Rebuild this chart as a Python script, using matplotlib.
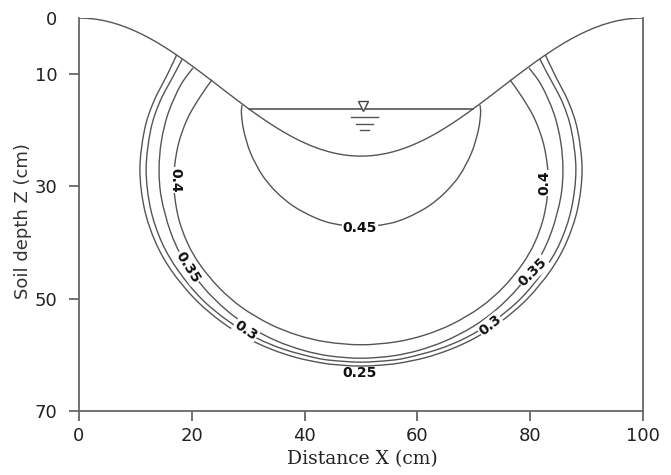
import matplotlib
matplotlib.use("Agg")
import matplotlib.pyplot as plt
import numpy as np
from matplotlib.path import Path
from matplotlib.patches import PathPatch

# Furrow surface profile, left half (distance X cm, depth Z cm); the furrow is symmetric about X = 50
surface_x = [0, 2.5, 5, 7.5, 10, 12.5, 15, 17.5, 20, 22.5, 25, 27.5, 30, 32.5, 35, 37.5, 40, 42.5, 45, 47.5, 50]
surface_z = [0, 0.15, 0.60, 1.34, 2.35, 3.60, 5.07, 6.72, 8.50, 10.38, 12.30, 14.22, 16.10, 17.88, 19.53,
             21.0, 22.25, 23.26, 24.0, 24.45, 24.6]

# Water level in the furrow
water_z = 16.2
water_x = [30.1, 69.9]

# Soil water content contours, left half from the surface down to the bottom point at X = 50
c025_x = [17.3, 15.7, 13.2, 11.6, 10.8, 11.6, 13.6, 16.4, 20.5, 25.1, 29.8, 34.1, 38.6, 43.4, 46.8, 50]
c025_z = [6.6, 10, 15, 20, 27, 34, 40, 45, 50, 54, 57, 59, 60.5, 61.5, 61.85, 62.0]

c030_x = [18.3, 16.9, 14.3, 12.7, 11.9, 12.7, 14.7, 17.6, 21.7, 26.5, 31.5, 36.3, 41.8, 45.0, 50]
c030_z = [7.3, 10, 15, 20, 27, 34, 40, 45, 50, 54, 57, 59, 60.5, 61.0, 61.3]

c035_x = [20.2, 18.0, 15.8, 14.6, 14.2, 14.6, 16.2, 18.5, 22.1, 26.1, 30.2, 35.0, 39.8, 44.5, 50]
c035_z = [8.9, 12, 17, 22, 27, 32, 38, 43, 48, 52, 55, 57.5, 59.2, 60.2, 60.6]

c040_x = [23.6, 21.5, 19.2, 17.5, 16.8, 17.5, 19.2, 21.5, 24.8, 28.8, 33.8, 38.8, 43.9, 50]
c040_z = [11.0, 14, 18, 23, 29, 35, 40, 44, 48, 51.5, 54.5, 56.5, 57.7, 58.2]

c045_x = [28.9, 28.8, 29.2, 30.4, 32.5, 35.0, 38.0, 41.7, 45.0, 50]
c045_z = [15.5, 17, 20, 24, 28, 31, 33.5, 35.5, 36.6, 37.2]

# Contour labels: text, X, Z, rotation (deg)
label_text = ["0.4", "0.4", "0.45", "0.35", "0.3", "0.25", "0.3", "0.35"]
label_x = [17.0, 82.6, 49.8, 19.3, 29.6, 49.8, 72.9, 80.5]
label_z = [28.9, 29.4, 37.4, 44.4, 55.6, 63.2, 54.7, 45.2]
label_rot = [-90, 90, 0, -58, -34, 0, 39, 45]

x_ticks = [0, 20, 40, 60, 80, 100]
z_ticks = [0, 10, 30, 50, 70]


def mirrored(xs, zs):
    """Complete a left-half profile with its mirror image about X = 50."""
    full_x = list(xs) + [100 - v for v in reversed(xs[:-1])]
    full_z = list(zs) + list(reversed(zs[:-1]))
    return full_x, full_z


def smooth_path(xs, zs):
    """Cubic Bezier path passing through every given point (Catmull-Rom tangents)."""
    pts = np.column_stack([xs, zs]).astype(float)
    n = len(pts)
    verts = [pts[0]]
    codes = [Path.MOVETO]
    for i in range(n - 1):
        p0 = pts[i - 1] if i > 0 else pts[i]
        p1, p2 = pts[i], pts[i + 1]
        p3 = pts[i + 2] if i + 2 < n else pts[i + 1]
        verts += [p1 + (p2 - p0) / 6.0, p2 - (p3 - p1) / 6.0, p2]
        codes += [Path.CURVE4] * 3
    return Path(verts, codes)


line_color = "#555555"
axis_color = "#666666"

fig = plt.figure(figsize=(6.71, 4.75), dpi=100)
ax = fig.add_axes([79 / 671, 1 - 411 / 475, 564 / 671, 393 / 475])

profiles = [(surface_x, surface_z), (c025_x, c025_z), (c030_x, c030_z), (c035_x, c035_z),
            (c040_x, c040_z), (c045_x, c045_z)]
for px, pz in profiles:
    fx, fz = mirrored(px, pz)
    ax.add_patch(PathPatch(smooth_path(fx, fz), fill=False, ec=line_color, lw=1.0))

# water surface and level symbol
ax.plot(water_x, [water_z, water_z], color=line_color, lw=1.2)
ax.plot([50.3], [water_z - 0.6], marker="v", ms=6.5, mfc="white", mec="#444444", mew=1.0, ls="none")
for dz, half in [(1.5, 2.45), (2.6, 1.5), (3.7, 0.75)]:
    ax.plot([50.6 - half, 50.6 + half], [water_z + dz, water_z + dz], color="#555555", lw=1.0)

for t, x, z, r in zip(label_text, label_x, label_z, label_rot):
    bbox = None if t == "0.25" else dict(fc="white", ec="none", pad=0.6)
    ax.text(x, z, t, rotation=r, rotation_mode="anchor", ha="center", va="center",
            fontsize=10, fontweight="bold", color="#111111", bbox=bbox)

ax.set_xlim(0, 100)
ax.set_ylim(70, 0)
ax.set_xticks(x_ticks)
ax.set_yticks(z_ticks)
ax.set_xticklabels([str(v) for v in x_ticks])
ax.set_yticklabels([str(v) for v in z_ticks])

ax.spines["top"].set_visible(False)
for s in ["left", "right", "bottom"]:
    ax.spines[s].set_color(axis_color)
    ax.spines[s].set_linewidth(1.3)
ax.tick_params(axis="both", direction="out", length=7.5, width=1.3, color=axis_color,
               labelsize=13, labelcolor="#222222")
ax.tick_params(axis="y", pad=8)
ax.tick_params(axis="x", pad=4)
ax.yaxis.get_major_ticks()[0].tick1line.set_visible(False)

ax.set_ylabel("Soil depth Z (cm)", fontsize=13, color="#333333")
ax.yaxis.set_label_coords(-0.083, 0.4835)
ax.set_xlabel("Distance X (cm)", fontsize=13.5, family="DejaVu Serif", color="#222222")
ax.xaxis.set_label_coords(0.502, -0.099)

fig.savefig("out.png", dpi=100)
